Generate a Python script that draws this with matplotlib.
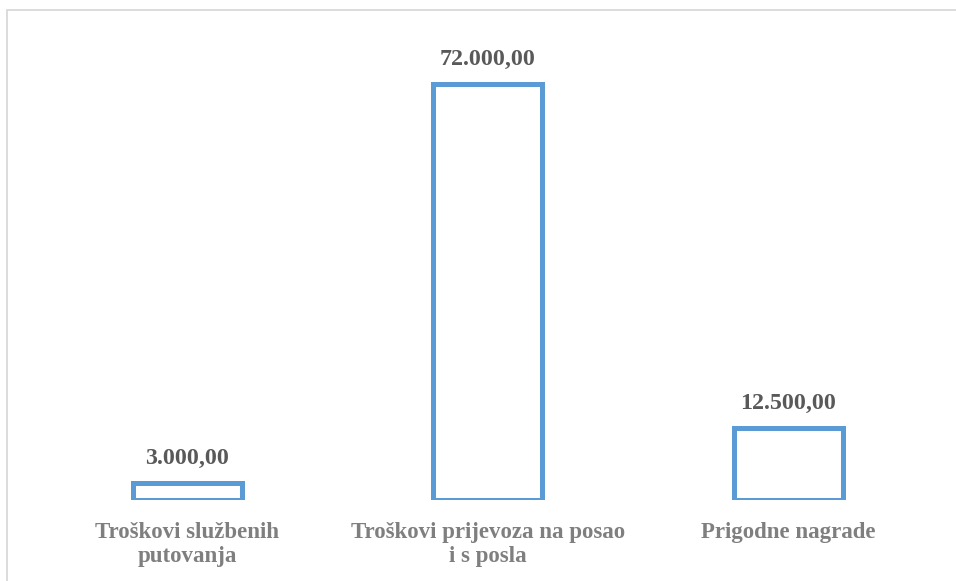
import matplotlib.pyplot as plt
import matplotlib.patches as mpatches

categories = ['Troškovi službenih\nputovanja', 'Troškovi prijevoza na posao\ni s posla', 'Prigodne nagrade']
values = [3000, 72000, 12500]
value_labels = ['3.000,00', '72.000,00', '12.500,00']

plt.rcParams['font.family'] = ['Liberation Serif', 'DejaVu Serif']

fig = plt.figure(figsize=(9.56, 5.81), dpi=100)
ax = fig.add_axes([0.0387, 0.1394, 0.943, 0.795])

x = range(len(categories))
bars = ax.bar(x, values, width=0.363, facecolor='white', edgecolor='#5B9BD5', linewidth=3.6)

for b, lab in zip(bars, value_labels):
    ax.annotate(lab, (b.get_x() + b.get_width() / 2, b.get_height()),
                xytext=(0, 10), textcoords='offset points', ha='center', va='bottom',
                fontsize=17.3, fontweight='bold', color='#595959')

ax.set_xlim(-0.5, 2.5)
ax.set_ylim(0, 80000)
ax.set_xticks(list(x))
ax.set_xticklabels(categories, fontsize=16.5, fontweight='bold', color='#7F7F7F', linespacing=1.2)
ax.tick_params(axis='x', length=0, pad=15.5)
ax.set_yticks([])
for s in ax.spines.values():
    s.set_visible(False)

# chart frame (cropped at right/bottom)
fig.patches.append(mpatches.Rectangle((7 / 956, -0.2), 1.2, (581 - 9.5) / 581 + 0.2,
                                      transform=fig.transFigure, fill=False,
                                      edgecolor='#D9D9D9', linewidth=1.3))

fig.savefig('out.png', dpi=100)
